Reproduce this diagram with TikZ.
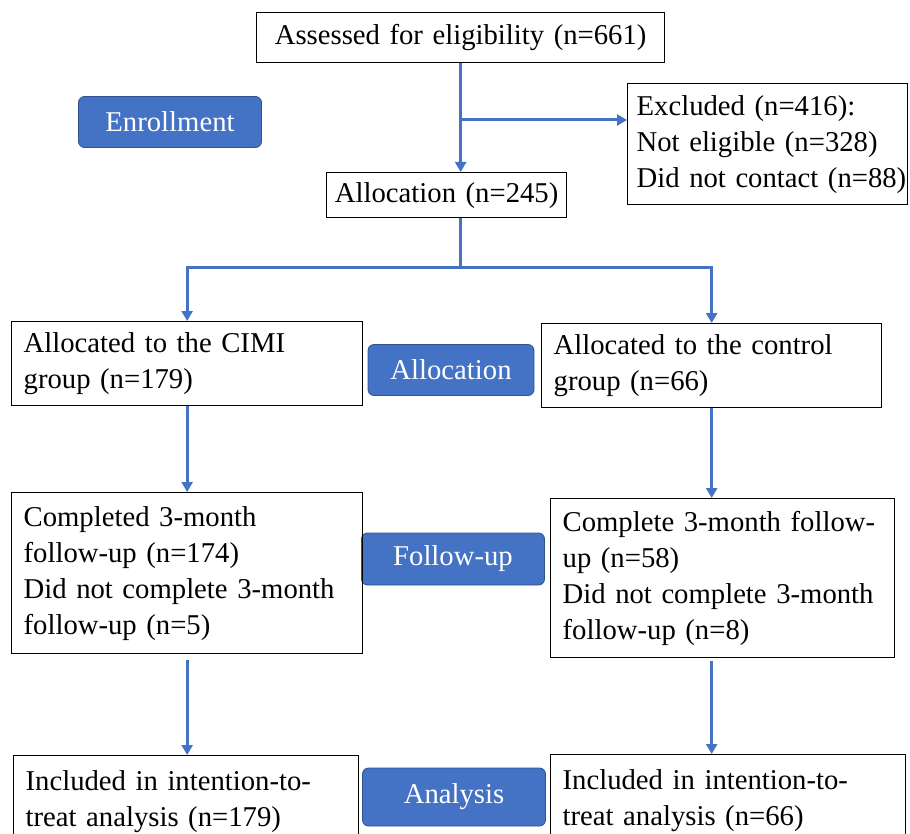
\documentclass[tikz,border=0pt]{standalone}
\usepackage{fontspec}
\setmainfont{Liberation Serif}
\usetikzlibrary{arrows.meta}
\definecolor{flowblue}{HTML}{4472C4}
\definecolor{flowedge}{HTML}{2F528F}
\begin{document}
\begin{tikzpicture}[x=1pt,y=-1pt,
	font=\fontsize{28.7}{36}\selectfont,
	box/.style={draw,line width=1.3pt,anchor=north west,inner xsep=12pt,inner ysep=3pt,align=left},
	tag/.style={fill=flowblue,draw=flowedge,line width=0.8pt,rounded corners=6pt,text=white,inner sep=0pt},
	link/.style={flowblue,line width=3pt},
	arr/.style={link,-{Triangle[width=11pt,length=10pt]}}]
	    \useasboundingbox (0,0) rectangle (910,834);
	    % stage tags
	    \node[tag,minimum width=183pt,minimum height=51pt] (TE) at (170,122) {Enrollment};
	    \node[tag,minimum width=166pt,minimum height=51pt] (TA) at (451,370) {Allocation};
	    \node[tag,minimum width=183pt,minimum height=52pt] (TF) at (453,559) {Follow-up};
	    \node[tag,minimum width=183pt,minimum height=58pt] (TN) at (454,797) {Analysis};
	    % boxes
	    \node[box,align=center,text width=384pt,minimum height=50pt] (AS) at (256,12) {Assessed for eligibility (n=661)};
	    \node[box,inner xsep=9pt,text width=262pt,minimum height=121pt] (EX) at (627,83) {Excluded (n=416):\\Not eligible (n=328)\\\mbox{Did not contact (n=88)}};
	    \node[box,align=center,inner xsep=6pt,text width=228pt,minimum height=45pt] (AL) at (326,172) {\mbox{Allocation (n=245)}};
	    \node[box,text width=327pt,minimum height=84pt] (CI) at (11,321) {Allocated to the CIMI\\group (n=179)};
	    \node[box,text width=316pt,minimum height=84pt] (CO) at (541,323) {Allocated to the control\\group (n=66)};
	    \node[box,text width=327pt,minimum height=161pt] (FI) at (11,492) {Completed 3-month\\follow-up (n=174)\\Did not complete 3-month\\follow-up (n=5)};
	    \node[box,text width=320pt,minimum height=159pt] (FC) at (550,498) {\mbox{Complete 3-month follow-}\\up (n=58)\\Did not complete 3-month\\follow-up (n=8)};
	    \node[box,text width=321pt,minimum height=92pt] (II) at (13,755) {Included in intention-to-\\treat analysis (n=179)};
	    \node[box,text width=331pt,minimum height=92pt] (IC) at (550,754) {Included in intention-to-\\treat analysis (n=66)};
	    % arrows
	    \coordinate (EXIN) at (460,120);
	    \coordinate (SPLIT) at (460,268);
	    \draw[arr] (AS.south) -- (AS.south |- AL.north);
	    \draw[arr] (EXIN) -- (EXIN -| EX.west);
	    \draw[link] (SPLIT |- AL.south) -- (SPLIT);
	    \draw[arr] (SPLIT) -| (CI.north);
	    \draw[arr] (SPLIT) -| (CO.north);
	    \draw[arr] (CI.south) -- (CI.south |- FI.north);
	    \draw[arr] (CO.south) -- (CO.south |- FC.north);
	    \draw[arr,shorten <=6pt] (FI.south) -- (FI.south |- II.north);
	    \draw[arr,shorten <=3pt] (CO.south |- FC.south) -- (CO.south |- IC.north);
	\end{tikzpicture}
\end{document}
